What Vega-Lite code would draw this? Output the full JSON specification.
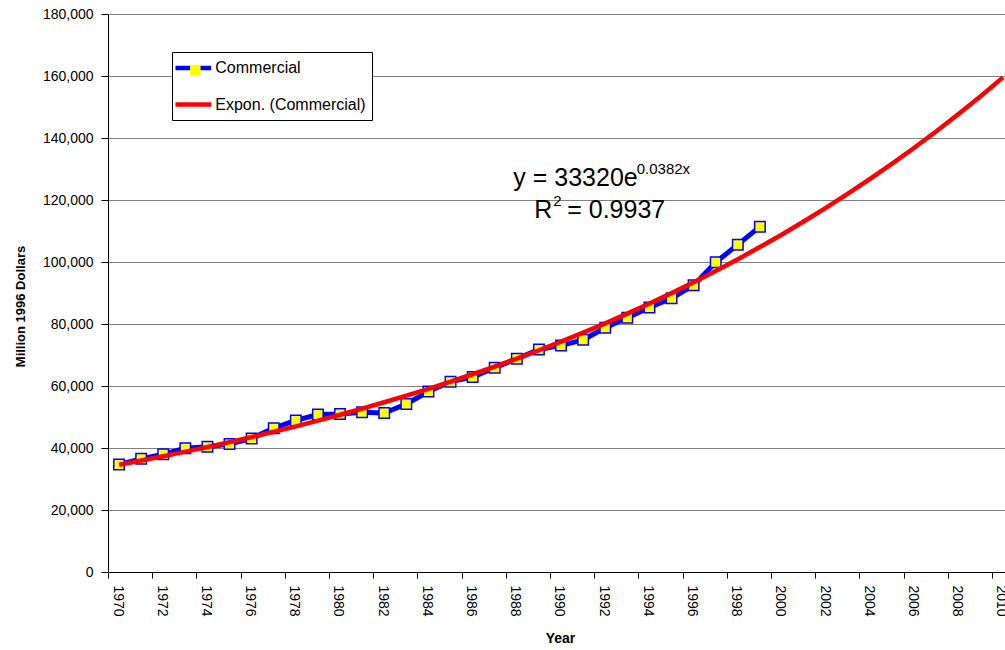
{
  "$schema": "https://vega.github.io/schema/vega-lite/v6.json",
  "width": 897,
  "height": 558,
  "autosize": {"type": "none"},
  "padding": {"left": 108, "top": 14, "right": 0, "bottom": 78},
  "background": "#FFFFFF",
  "config": {"view": {"stroke": null}, "font": "Liberation Sans"},
  "datasets": {
    "commercial": [
      {"year": 1970, "value": 34700}, {"year": 1971, "value": 36500}, {"year": 1972, "value": 38000},
      {"year": 1973, "value": 39900}, {"year": 1974, "value": 40400}, {"year": 1975, "value": 41300},
      {"year": 1976, "value": 43100}, {"year": 1977, "value": 46400}, {"year": 1978, "value": 48900},
      {"year": 1979, "value": 50800}, {"year": 1980, "value": 51000}, {"year": 1981, "value": 51500},
      {"year": 1982, "value": 51300}, {"year": 1983, "value": 54200}, {"year": 1984, "value": 58200},
      {"year": 1985, "value": 61400}, {"year": 1986, "value": 62900}, {"year": 1987, "value": 65900},
      {"year": 1988, "value": 68800}, {"year": 1989, "value": 71800}, {"year": 1990, "value": 73100},
      {"year": 1991, "value": 74900}, {"year": 1992, "value": 78800}, {"year": 1993, "value": 82000},
      {"year": 1994, "value": 85300}, {"year": 1995, "value": 88300}, {"year": 1996, "value": 92500},
      {"year": 1997, "value": 99900}, {"year": 1998, "value": 105600}, {"year": 1999, "value": 111400}
    ],
    "trend": [
      {"year": 1970, "value": 34617}, {"year": 1971, "value": 35965}, {"year": 1972, "value": 37365},
      {"year": 1973, "value": 38820}, {"year": 1974, "value": 40332}, {"year": 1975, "value": 41903},
      {"year": 1976, "value": 43535}, {"year": 1977, "value": 45230}, {"year": 1978, "value": 46991},
      {"year": 1979, "value": 48821}, {"year": 1980, "value": 50722}, {"year": 1981, "value": 52697},
      {"year": 1982, "value": 54749}, {"year": 1983, "value": 56881}, {"year": 1984, "value": 59096},
      {"year": 1985, "value": 61397}, {"year": 1986, "value": 63788}, {"year": 1987, "value": 66272},
      {"year": 1988, "value": 68852}, {"year": 1989, "value": 71533}, {"year": 1990, "value": 74318},
      {"year": 1991, "value": 77212}, {"year": 1992, "value": 80219}, {"year": 1993, "value": 83343},
      {"year": 1994, "value": 86588}, {"year": 1995, "value": 89960}, {"year": 1996, "value": 93463},
      {"year": 1997, "value": 97102}, {"year": 1998, "value": 100883}, {"year": 1999, "value": 104811},
      {"year": 2000, "value": 108892}, {"year": 2001, "value": 113132}, {"year": 2002, "value": 117537},
      {"year": 2003, "value": 122114}, {"year": 2004, "value": 126869}, {"year": 2005, "value": 131809},
      {"year": 2006, "value": 136942}, {"year": 2007, "value": 142274}, {"year": 2008, "value": 147814},
      {"year": 2009, "value": 153570}, {"year": 2010, "value": 159550}
    ]
  },
  "layer": [
    {
      "data": {"name": "commercial"},
      "mark": {"type": "line", "strokeWidth": 5},
      "encoding": {
        "x": {
          "field": "year",
          "type": "quantitative",
          "scale": {"domain": [1969.5, 2010.09], "nice": false, "zero": false},
          "axis": {
            "values": [1969.5, 1970.5, 1971.5, 1972.5, 1973.5, 1974.5, 1975.5, 1976.5, 1977.5, 1978.5, 1979.5, 1980.5, 1981.5, 1982.5, 1983.5, 1984.5, 1985.5, 1986.5, 1987.5, 1988.5, 1989.5, 1990.5, 1991.5, 1992.5, 1993.5, 1994.5, 1995.5, 1996.5, 1997.5, 1998.5, 1999.5, 2000.5, 2001.5, 2002.5, 2003.5, 2004.5, 2005.5, 2006.5, 2007.5, 2008.5, 2009.5],
            "grid": false,
            "domainColor": "#000000",
            "domainWidth": 1,
            "tickColor": "#000000",
            "tickSize": 6,
            "labelExpr": "(datum.value + 0.5) % 2 == 0 ? '' + (datum.value + 0.5) : ''",
            "labelOffset": 9,
            "labelAngle": 90,
            "labelAlign": "left",
            "labelBaseline": "middle",
            "labelPadding": 7,
            "labelFontSize": 14,
            "labelFont": "Liberation Sans",
            "labelColor": "#000000",
            "labelOverlap": false,
            "labelBound": false,
            "labelFlush": false,
            "title": "Year",
            "titleFont": "Liberation Sans",
            "titleFontSize": 14,
            "titleFontWeight": "bold",
            "titleColor": "#000000",
            "titleX": 452,
            "titleY": 70,
            "titleAlign": "center",
            "titleBaseline": "alphabetic"
          }
        },
        "y": {
          "field": "value",
          "type": "quantitative",
          "scale": {"domain": [0, 180000], "nice": false},
          "axis": {
            "values": [0, 20000, 40000, 60000, 80000, 100000, 120000, 140000, 160000, 180000],
            "labelExpr": "format(datum.value, ',')",
            "grid": true,
            "gridColor": "#808080",
            "gridWidth": 1,
            "domainColor": "#000000",
            "domainWidth": 1,
            "tickColor": "#000000",
            "tickSize": 7,
            "labelFontSize": 14,
            "labelFont": "Liberation Sans",
            "labelColor": "#000000",
            "labelPadding": 8,
            "title": "Million 1996 Dollars",
            "titleFont": "Liberation Sans",
            "titleFontSize": 13,
            "titleFontWeight": "bold",
            "titleColor": "#000000",
            "titleAngle": -90,
            "titleX": -88,
            "titleY": 292,
            "titleAlign": "center",
            "titleBaseline": "middle"
          }
        },
        "color": {
          "datum": "Commercial",
          "type": "nominal",
          "scale": {"domain": ["Commercial", "Expon. (Commercial)"], "range": ["#0000FF", "#FF0000"]},
          "legend": {
            "title": null,
            "orient": "none",
            "legendX": 64,
            "legendY": 38,
            "zindex": 1,
            "symbolType": "M-2.3,0H2.3",
            "symbolStrokeWidth": 4.5,
            "symbolSize": 240,
            "symbolOffset": 5.3,
            "symbolOpacity": 1,
            "labelFontSize": 16,
            "labelFont": "Liberation Sans",
            "labelColor": "#000000",
            "labelOffset": 12,
            "fillColor": "#FFFFFF",
            "strokeColor": "#000000",
            "padding": 6,
            "rowPadding": 17.5
          }
        }
      }
    },
    {
      "data": {"name": "commercial"},
      "mark": {"type": "point", "filled": true, "fill": "#FFFF00", "stroke": "#0000FF", "strokeWidth": 1.5, "size": 110, "opacity": 1},
      "encoding": {
        "x": {"field": "year", "type": "quantitative"},
        "y": {"field": "value", "type": "quantitative"},
        "shape": {
          "datum": "Commercial",
          "type": "nominal",
          "scale": {"range": ["square"]},
          "legend": {
            "title": null,
            "orient": "none",
            "legendX": 64,
            "legendY": 38,
            "zindex": 2,
            "padding": 10,
            "symbolSize": 110,
            "symbolFillColor": "#FFFF00",
            "symbolStrokeColor": "#0000FF",
            "symbolStrokeWidth": 1.5,
            "symbolOpacity": 1,
            "symbolOffset": 5.3,
            "labelFontSize": 16,
            "labelExpr": "''"
          }
        }
      }
    },
    {
      "data": {"name": "trend"},
      "mark": {"type": "line", "strokeWidth": 4.5},
      "encoding": {
        "x": {"field": "year", "type": "quantitative"},
        "y": {"field": "value", "type": "quantitative"},
        "color": {"datum": "Expon. (Commercial)", "type": "nominal"}
      }
    },
    {
      "data": {"values": [{"t": "y = 33320e"}]},
      "mark": {"type": "text", "align": "right", "baseline": "alphabetic", "fontSize": 25, "font": "Liberation Sans", "color": "#000000"},
      "encoding": {"x": {"datum": 1993.47, "type": "quantitative"}, "y": {"datum": 124600, "type": "quantitative"}, "text": {"field": "t", "type": "nominal"}}
    },
    {
      "data": {"values": [{"t": "0.0382x"}]},
      "mark": {"type": "text", "align": "left", "baseline": "alphabetic", "fontSize": 15, "dx": -1, "dy": -12, "font": "Liberation Sans", "color": "#000000"},
      "encoding": {"x": {"datum": 1993.47, "type": "quantitative"}, "y": {"datum": 124600, "type": "quantitative"}, "text": {"field": "t", "type": "nominal"}}
    },
    {
      "data": {"values": [{"t": "R"}]},
      "mark": {"type": "text", "align": "right", "baseline": "alphabetic", "fontSize": 25, "font": "Liberation Sans", "color": "#000000"},
      "encoding": {"x": {"datum": 1989.6, "type": "quantitative"}, "y": {"datum": 114100, "type": "quantitative"}, "text": {"field": "t", "type": "nominal"}}
    },
    {
      "data": {"values": [{"t": "2"}]},
      "mark": {"type": "text", "align": "left", "baseline": "alphabetic", "fontSize": 15, "dx": 1, "dy": -12, "font": "Liberation Sans", "color": "#000000"},
      "encoding": {"x": {"datum": 1989.6, "type": "quantitative"}, "y": {"datum": 114100, "type": "quantitative"}, "text": {"field": "t", "type": "nominal"}}
    },
    {
      "data": {"values": [{"t": "= 0.9937"}]},
      "mark": {"type": "text", "align": "left", "baseline": "alphabetic", "fontSize": 25, "dx": 15, "font": "Liberation Sans", "color": "#000000"},
      "encoding": {"x": {"datum": 1989.6, "type": "quantitative"}, "y": {"datum": 114100, "type": "quantitative"}, "text": {"field": "t", "type": "nominal"}}
    }
  ]
}
